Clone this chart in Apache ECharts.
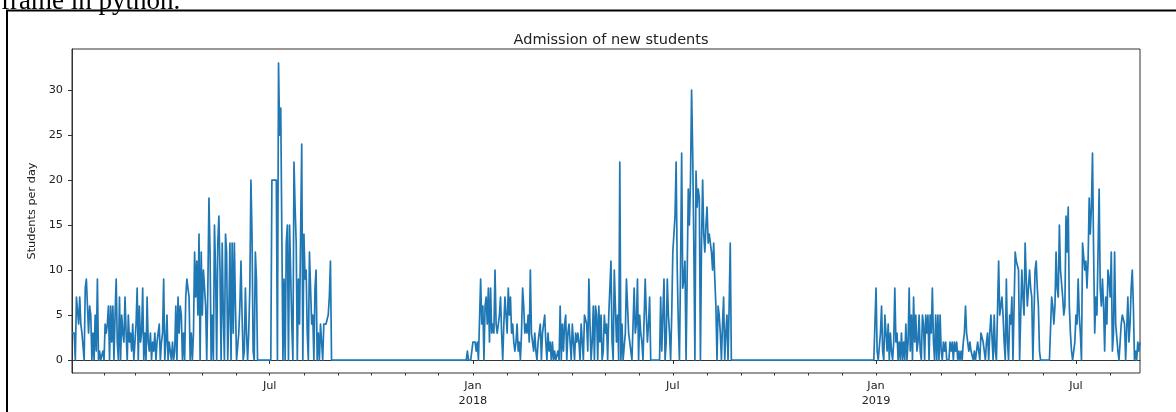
<!DOCTYPE html>
<html>
<head>
<meta charset="utf-8">
<script src="https://cdn.jsdelivr.net/npm/echarts@6/dist/echarts.min.js"></script>
<style>
  html, body { margin: 0; padding: 0; background: #fff; }
  #main { width: 1176px; height: 412px; }
</style>
</head>
<body>
<div id="main"></div>
<script>
// daily admissions (one value per day from the start date)
var start2017 = '2017-01-03';
var counts2017 = [
  3,3,3,0,7,7,4,7,4,3,
  3,0,8,9,6,3,6,5,0,3,
  0,5,1,9,0,1,0,0,1,0,
  4,3,4,6,0,6,2,6,0,5,
  9,2,0,7,0,5,3,2,7,3,
  0,5,2,3,1,4,0,2,4,8,
  0,6,2,3,8,0,3,0,7,2,
  1,3,0,2,1,3,0,2,2,4,
  0,2,3,9,0,2,5,0,2,1,
  0,2,0,1,6,0,7,3,6,5,
  0,3,0,7,9,8,7,0,3,0,
  3,12,7,11,5,14,0,12,5,10,
  10,6,0,8,18,12,0,5,0,15,
  10,0,13,16,10,0,13,5,0,14,
  12,0,5,13,0,13,3,13,6,0,
  0,3,6,11,5,0,1,8,3,0,
  3,8,20,14,1,0,12,9,0,0,
  0,0,0,0,0,0,0,0,0,0,
  0,20,20,20,20,20,0,33,25,28,
  14,0,9,0,13,15,0,15,15,4,
  0,22,17,13,0,9,4,14,24,0,
  14,9,10,3,0,12,12,4,5,0,
  8,10,0,3,0,4,4,0,4,4,
  4,4,5,7,11,0
];

var start2018 = '2017-12-24';
var counts2018 = [
  0,0,0,1,0,0,0,0,2,2,
  2,1,2,0,0,9,4,6,0,6,
  7,4,8,2,8,3,4,3,10,4,
  3,4,5,7,3,0,4,7,7,3,
  8,5,7,3,4,2,1,2,4,1,
  2,0,3,8,6,3,4,3,5,2,
  10,3,2,1,3,1,0,2,2,4,
  0,3,4,5,2,0,3,1,2,0,
  2,0,1,0,0,1,0,6,0,4,
  1,4,5,0,3,4,2,0,4,4,
  0,3,2,3,2,0,4,4,0,5,
  5,4,1,9,4,0,2,6,0,6,
  5,0,6,2,5,0,1,5,3,4,
  0,5,8,11,2,0,10,10,2,5,
  0,22,0,4,0,0,3,9,9,3,
  2,2,0,0,8,3,4,9,0,5,
  3,2,0,0,9,5,2,4,7,0,
  0,0,0,0,0,0,0,0,7,1,
  5,9,0,2,9,5,3,0,5,12,
  12,16,22,10,4,0,10,23,8,9,
  11,0,0,19,15,20,30,23,13,0,
  21,17,19,18,0,13,20,14,12,15,
  17,13,14,14,12,10,13,9,6,0,
  6,5,3,0,4,7,0,3,5,0,
  6,13,0,0,0
];

var start2019 = '2018-12-30';
var counts2019 = [
  0,0,8,1,0,0,3,6,1,0,
  5,5,1,4,0,3,1,0,2,8,
  2,3,0,2,0,3,0,2,0,4,
  0,2,8,1,5,0,7,2,5,1,
  2,5,1,0,5,4,0,5,3,5,
  0,5,3,8,2,0,5,0,5,0,
  5,1,0,2,1,2,0,0,0,2,
  1,2,0,2,1,2,0,1,0,1,
  0,2,3,6,3,2,1,2,1,1,
  0,1,0,1,2,1,0,3,3,2,
  1,0,2,3,0,3,5,5,0,5,
  1,0,0,11,5,6,7,5,2,0,
  9,2,0,5,4,7,0,0,12,11,
  11,10,0,0,10,7,5,13,9,6,
  6,10,8,7,0,0,10,11,8,6,
  1,0,0,0,0,0,0,0,0,0,
  0,7,6,4,6,12,8,7,15,10,
  10,7,5,6,16,12,17,6,3,1,
  0,0,2,5,4,9,5,3,0,13,
  13,10,11,8,11,18,14,17,23,12,
  3,7,5,12,19,8,6,9,6,1,
  7,4,10,9,7,12,1,3,12,4,
  4,1,0,0,4,5,5,4,0,0,
  7,2,4,8,10,6,0,1,0,2,
  1,2
];

// x axis: major ticks with labels, minor ticks every month
var majorTicks = ['2017-07-01', '2018-01-01', '2018-07-01', '2019-01-01', '2019-07-01'];
var majorLabels = ['Jul', 'Jan\n2018', 'Jul', 'Jan\n2019', 'Jul'];
var yTicks = [0, 5, 10, 15, 20, 25, 30];

var DAY = 86400000;
function toTime(s) {
  return Date.parse(s + 'T00:00:00Z');
}
function dayPairs(startStr, counts) {
  var t0 = toTime(startStr);
  var out = [];
  for (var i = 0; i < counts.length; i++) {
    out.push([t0 + i * DAY, counts[i]]);
  }
  return out;
}

var seriesData = dayPairs(start2017, counts2017)
  .concat(dayPairs(start2018, counts2018))
  .concat(dayPairs(start2019, counts2019));

var xMin = seriesData[0][0];
var xMax = seriesData[seriesData.length - 1][0];

var majorTimes = majorTicks.map(toTime);
var minorTimes = [];
for (var y = 2017; y <= 2019; y++) {
  for (var m = 0; m < 12; m++) {
    var t = Date.UTC(y, m, 1);
    if (t > xMin && t <= xMax) minorTimes.push(t);
  }
}

var textColor = '#222';
var spineColor = '#333';
var labelSize = 11.3;

var chart = echarts.init(document.getElementById('main'), null, { renderer: 'canvas' });

// the date axis is a plain value axis holding timestamps, so custom ticks work
var option = {
  animation: false,
  backgroundColor: '#fff',
  title: {
    text: 'Admission of new students',
    left: 606,
    top: 28,
    textAlign: 'center',
    textStyle: {
      fontFamily: 'DejaVu Sans',
      fontSize: 14.5,
      fontWeight: 'normal',
      color: textColor
    }
  },
  graphic: [
    {
      type: 'text',
      left: 1,
      top: -12,
      style: {
        text: 'frame in python.',
        font: '27px "Liberation Serif"',
        fill: '#000'
      }
    },
    {
      type: 'rect',
      shape: { x: 7, y: 10.5, width: 1200, height: 420 },
      style: { fill: 'none', stroke: '#000', lineWidth: 2 }
    }
  ],
  grid: {
    left: 72,
    right: 36,
    top: 49,
    bottom: 39,
    show: true,
    borderColor: spineColor,
    borderWidth: 1,
    backgroundColor: 'transparent'
  },
  xAxis: [
    {
      type: 'value',
      min: xMin,
      max: xMax,
      axisLine: { show: true, lineStyle: { color: spineColor, width: 1 } },
      axisTick: {
        show: true,
        length: 4,
        customValues: majorTimes,
        lineStyle: { color: spineColor }
      },
      axisLabel: {
        customValues: majorTimes,
        margin: 6,
        fontFamily: 'DejaVu Sans',
        fontSize: labelSize,
        lineHeight: 14.5,
        color: textColor,
        formatter: function (val) {
          var k = majorTimes.indexOf(val);
          return k >= 0 ? majorLabels[k] : '';
        }
      },
      splitLine: { show: false }
    },
    {
      type: 'value',
      position: 'bottom',
      min: xMin,
      max: xMax,
      axisLine: { show: false },
      axisTick: {
        show: true,
        length: 2.5,
        customValues: minorTimes,
        lineStyle: { color: spineColor }
      },
      axisLabel: { show: false },
      splitLine: { show: false }
    }
  ],
  yAxis: {
    type: 'value',
    min: -1.44,
    max: 34.56,
    name: 'Students per day',
    nameLocation: 'middle',
    nameGap: 31,
    nameTextStyle: {
      fontFamily: 'DejaVu Sans',
      fontSize: labelSize,
      color: textColor
    },
    axisLine: { show: true, lineStyle: { color: spineColor, width: 1 } },
    axisTick: {
      show: true,
      length: 4,
      customValues: yTicks,
      lineStyle: { color: spineColor }
    },
    axisLabel: {
      customValues: yTicks,
      margin: 9,
      fontFamily: 'DejaVu Sans',
      fontSize: labelSize,
      color: textColor
    },
    splitLine: { show: false }
  },
  series: [
    {
      name: 'Students per day',
      type: 'line',
      xAxisIndex: 0,
      data: seriesData,
      showSymbol: false,
      symbol: 'none',
      lineStyle: { color: '#1f77b4', width: 1.7, join: 'round' },
      itemStyle: { color: '#1f77b4' }
    }
  ]
};

chart.setOption(option);
</script>
</body>
</html>
